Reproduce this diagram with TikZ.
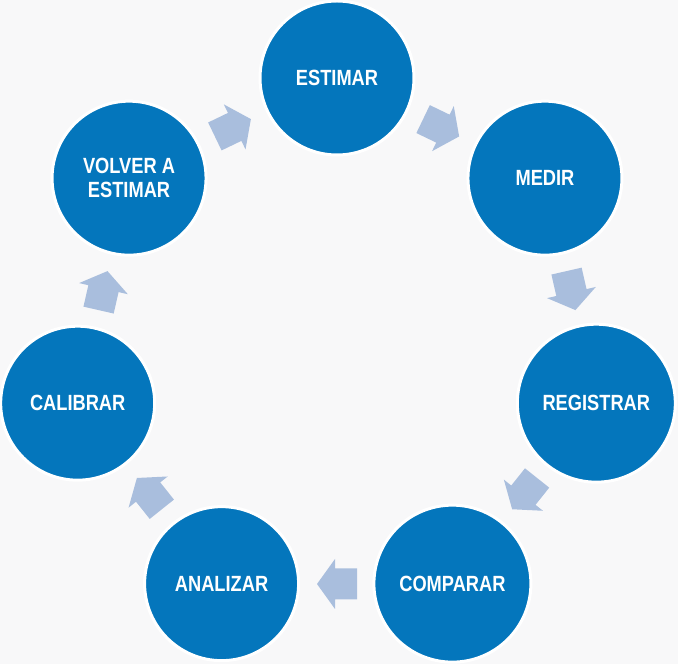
\documentclass[tikz,border=0pt]{standalone}
\usepackage{fontspec}
\setmainfont{Liberation Sans}
\newfontfamily\labfont{Liberation Sans}[FakeStretch=0.83]
\usetikzlibrary{calc}
\definecolor{bg}{HTML}{F8F8F9}
\definecolor{circblue}{HTML}{0476BC}
\definecolor{arrblue}{HTML}{A9BEDD}
\begin{document}
\begin{tikzpicture}[x=1pt,y=1pt,
 stage/.style={circle, fill=circblue, draw=white, line width=3pt, minimum size=154pt, inner sep=0pt, text=white, align=center, font=\labfont\bfseries\fontsize{22}{24.5}\selectfont},
 blockarr/.pic={\fill[arrblue] (-20,-15.5) -- (2,-15.5) -- (2,-25) -- (20,0) -- (2,25) -- (2,15.5) -- (-20,15.5) -- cycle;}]
\fill[bg] (0,0) rectangle (678,664);
\useasboundingbox (0,0) rectangle (678,664);
\coordinate (C) at (337,320);
\node[stage] (s1) at ($(C)+(90:266)$) {ESTIMAR};
\node[stage] (s2) at ($(C)+(38.571:266)$) {MEDIR};
\node[stage, minimum width=158pt] (s3) at ($(C)+(-12.857:266)$) {REGISTRAR};
\node[stage, minimum width=157pt] (s4) at ($(C)+(-64.286:266)$) {COMPARAR};
\node[stage] (s5) at ($(C)+(-115.714:266)$) {ANALIZAR};
\node[stage] (s6) at ($(C)+(-167.143:266)$) {CALIBRAR};
\node[stage] (s7) at ($(C)+(141.429:266)$) {VOLVER A\\ESTIMAR};
\pic[rotate=-25.714] (a1) at ($(C)+(64.286:240)$) {blockarr};
\pic[rotate=-77.143] (a2) at ($(C)+(12.857:240)$) {blockarr};
\pic[rotate=-128.571] (a3) at ($(C)+(-38.571:240)$) {blockarr};
\pic[rotate=180] (a4) at ($(C)+(-90:240)$) {blockarr};
\pic[rotate=128.571] (a5) at ($(C)+(-141.429:240)$) {blockarr};
\pic[rotate=77.143] (a6) at ($(C)+(167.143:240)$) {blockarr};
\pic[rotate=25.714] (a7) at ($(C)+(115.714:240)$) {blockarr};
\end{tikzpicture}
\end{document}
